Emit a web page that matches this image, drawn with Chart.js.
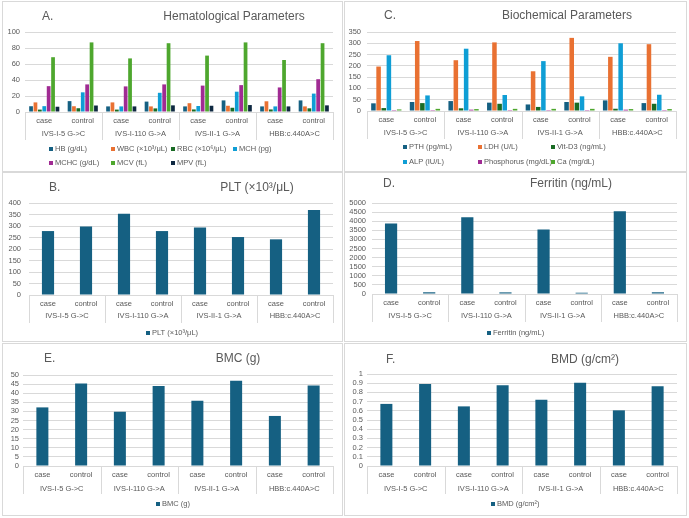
<!DOCTYPE html>
<html>
<head>
<meta charset="utf-8">
<script src="https://cdn.jsdelivr.net/npm/chart.js@4.4.1/dist/chart.umd.min.js"></script>
<style>
  body { margin:0; width:689px; height:518px; position:relative; overflow:hidden; background:#fff;
         font-family:"Liberation Sans", Arial, sans-serif; }
  .panel { position:absolute; border:1px solid #d9d9d9; box-sizing:border-box; }
  .panel canvas { position:absolute; left:-1px; top:-1px; }
  .t { position:absolute; font-size:12px; color:#595959; line-height:1; white-space:nowrap; transform:translate(-50%,-50%); }
  .k { position:absolute; font-size:12px; color:#595959; line-height:1; white-space:nowrap; transform:translateY(-50%); }
</style>
</head>
<body>
<div class="panel" style="left:2px;top:1px;width:341px;height:171px"><canvas id="cA" width="341" height="171"></canvas></div>
<div class="panel" style="left:344px;top:1px;width:343px;height:171px"><canvas id="cC" width="343" height="171"></canvas></div>
<div class="panel" style="left:2px;top:172px;width:341px;height:170px"><canvas id="cB" width="341" height="170"></canvas></div>
<div class="panel" style="left:344px;top:172px;width:343px;height:170px"><canvas id="cD" width="343" height="170"></canvas></div>
<div class="panel" style="left:2px;top:343px;width:341px;height:173px"><canvas id="cE" width="341" height="173"></canvas></div>
<div class="panel" style="left:344px;top:343px;width:343px;height:173px"><canvas id="cF" width="343" height="173"></canvas></div>

<span class="k" style="left:42px;top:16px">A.</span>
<span class="t" style="left:234px;top:16px">Hematological Parameters</span>
<span class="k" style="left:384px;top:15px">C.</span>
<span class="t" style="left:567px;top:15px">Biochemical Parameters</span>
<span class="k" style="left:49px;top:187px">B.</span>
<span class="t" style="left:257px;top:187px">PLT (×10³/μL)</span>
<span class="k" style="left:383px;top:183px">D.</span>
<span class="t" style="left:571px;top:183px">Ferritin (ng/mL)</span>
<span class="k" style="left:44px;top:358px">E.</span>
<span class="t" style="left:238px;top:358px">BMC (g)</span>
<span class="k" style="left:386px;top:359px">F.</span>
<span class="t" style="left:585px;top:359px">BMD (g/cm²)</span>

<script>
// categories
const groups = ['IVS-I-5 G->C', 'IVS-I-110 G->A', 'IVS-II-1 G->A', 'HBB:c.440A>C'];
const arms = ['case', 'control'];
const xLabels = groups.flatMap(() => arms);

// A. hematological (case, control per group)
const hemaNames = ['HB (g/dL)', 'WBC (×10³/μL)', 'RBC (×10⁶/μL)', 'MCH (pg)', 'MCHC (g/dL)', 'MCV (fL)', 'MPV (fL)'];
const hb   = [7.2, 13.6, 7, 13, 7, 14.5, 7, 14.5];
const wbc  = [12, 7.2, 12, 7, 11, 7.8, 13.4, 7];
const rbc  = [3, 4.7, 3, 4.5, 3.2, 5.3, 3.2, 4.6];
const mch  = [7.3, 24.6, 7, 24, 7.5, 25.4, 7, 23];
const mchc = [32.3, 34.5, 32, 34.5, 33, 33.6, 30.7, 41];
const mcv  = [68.5, 87, 67, 86, 70.5, 87, 65, 86];
const mpv  = [6.6, 8.1, 7, 8.3, 7.8, 8.7, 7, 8.3];

// C. biochemical
const bioNames = ['PTH (pg/mL)', 'LDH (U/L)', 'Vit-D3 (ng/mL)', 'ALP (IU/L)', 'Phosphorus (mg/dL)', 'Ca (mg/dL)'];
const pth  = [34, 40, 44, 37, 29, 40, 47, 35];
const ldh  = [197, 310, 225, 304, 176, 324, 240, 296];
const vitd = [13, 35, 12, 32, 18, 37, 10, 32];
const alp  = [247, 69, 276, 71, 221, 65, 300, 72];
const phos = [4, 4, 6, 4, 4, 4, 6, 4];
const ca   = [7, 9.5, 8.5, 9.5, 9.5, 9.5, 8.5, 8.5];

// B, D, E, F single series
const plt      = [278, 298, 353, 278, 293, 252, 242, 370];
const ferritin = [3870, 95, 4220, 90, 3540, 70, 4550, 95];
const bmc      = [32.2, 45.3, 29.8, 44, 35.8, 46.8, 27.5, 44.2];
const bmd      = [0.675, 0.89, 0.648, 0.877, 0.72, 0.905, 0.605, 0.866];

// y ticks
const ticksA = { max: 100, step: 20 };
const ticksC = { max: 350, step: 50 };
const ticksB = { max: 400, step: 50 };
const ticksD = { max: 5000, step: 500 };
const ticksE = { max: 50, step: 5 };
const ticksF = { max: 1, step: 0.1 };

const office = ['#156082', '#E97132', '#196B24', '#0F9ED5', '#A02B93', '#4EA72E', '#0E2841'];
const FONT = '"Liberation Sans", Arial, sans-serif';

Chart.defaults.font.family = FONT;
Chart.defaults.font.size = 7.5;
Chart.defaults.color = '#595959';

// second row of the category axis: group names and separators
const groupAxis = {
  id: 'groupAxis',
  afterDraw(chart, args, o) {
    const x = chart.scales.x, a = chart.chartArea, ctx = chart.ctx;
    const n = chart.data.labels.length, per = n / groups.length;
    const step = (a.right - a.left) / n;
    ctx.save();
    ctx.strokeStyle = '#d9d9d9';
    ctx.lineWidth = 1;
    for (let k = 0; k <= groups.length; k++) {
      const px = Math.round(x.getPixelForValue(0) - step / 2 + k * per * step) + 0.5;
      ctx.beginPath();
      ctx.moveTo(px, a.bottom);
      ctx.lineTo(px, a.bottom + o.len);
      ctx.stroke();
    }
    ctx.fillStyle = '#595959';
    ctx.font = '7.5px ' + FONT;
    ctx.textAlign = 'center';
    ctx.textBaseline = 'middle';
    groups.forEach((g, i) => {
      const cx = (x.getPixelForValue(i * per) + x.getPixelForValue(i * per + per - 1)) / 2;
      ctx.fillText(g, cx, a.bottom + o.dy);
    });
    ctx.restore();
  }
};

// excel-like legend, laid out in columns
const gridLegend = {
  id: 'gridLegend',
  afterDraw(chart, args, o) {
    const ctx = chart.ctx;
    ctx.save();
    ctx.font = '7.5px ' + FONT;
    ctx.textBaseline = 'middle';
    chart.data.datasets.forEach((d, i) => {
      let x, y;
      if (o.cols) {
        x = o.cols[i % o.cols.length];
        y = o.rows[Math.floor(i / o.cols.length)];
      } else {
        const w = 6 + ctx.measureText(d.label).width;
        x = Math.round(chart.width / 2 - w / 2);
        y = o.rows[0];
      }
      ctx.fillStyle = d.backgroundColor;
      ctx.fillRect(x, Math.round(y - 2), 4, 4);
      ctx.fillStyle = '#595959';
      ctx.fillText(d.label, x + 6, y);
    });
    ctx.restore();
  }
};

function barChart(id, datasets, yt, lay) {
  return new Chart(document.getElementById(id), {
    type: 'bar',
    data: { labels: xLabels, datasets: datasets },
    options: {
      responsive: false,
      animation: false,
      layout: { padding: { top: lay.top, left: 0, right: lay.right, bottom: lay.bottom } },
      datasets: { bar: { categoryPercentage: lay.cat, barPercentage: lay.bar } },
      scales: {
        x: {
          grid: { display: false, drawTicks: false },
          border: { display: false },
          ticks: { padding: 4, maxRotation: 0, autoSkip: false },
          afterFit: s => { s.height = 20; }
        },
        y: {
          min: 0, max: yt.max,
          ticks: { stepSize: yt.step, autoSkip: false, padding: lay.ypad, callback: v => String(+v.toFixed(2)) },
          grid: { color: '#d9d9d9', drawTicks: false },
          border: { display: false },
          afterFit: s => { s.width = lay.left; }
        }
      },
      plugins: {
        legend: { display: false },
        tooltip: { enabled: false },
        groupAxis: { len: 28, dy: lay.gy },
        gridLegend: lay.legend
      }
    },
    plugins: [groupAxis, gridLegend]
  });
}

const series = (names, arrs) => arrs.map((d, i) => ({ label: names[i], data: d, backgroundColor: office[i] }));
const single = (name, d) => [{ label: name, data: d, backgroundColor: office[0] }];

barChart('cA', series(hemaNames, [hb, wbc, rbc, mch, mchc, mcv, mpv]), ticksA,
  { top: 31, right: 10, bottom: 40, left: 23, ypad: 5, cat: 0.8, bar: 0.85, gy: 22,
    legend: { cols: [47, 109, 169, 231], rows: [148, 162] } });

barChart('cC', series(bioNames, [pth, ldh, vitd, alp, phos, ca]), ticksC,
  { top: 31, right: 11, bottom: 41, left: 23, ypad: 6, cat: 0.8, bar: 0.88, gy: 22,
    legend: { cols: [59, 134, 207], rows: [146, 161] } });

barChart('cB', single('PLT (×10³/μL)', plt), ticksB,
  { top: 31, right: 10, bottom: 27, left: 27, ypad: 8, cat: 0.32, bar: 1, gy: 21,
    legend: { rows: [161] } });

barChart('cD', single('Ferritin (ng/mL)', ferritin), ticksD,
  { top: 31, right: 10, bottom: 28, left: 28, ypad: 6, cat: 0.32, bar: 1, gy: 22,
    legend: { rows: [161] } });

barChart('cE', single('BMC (g)', bmc), ticksE,
  { top: 32, right: 10, bottom: 30, left: 21, ypad: 4, cat: 0.31, bar: 1, gy: 23,
    legend: { rows: [161] } });

barChart('cF', single('BMD (g/cm²)', bmd), ticksF,
  { top: 31, right: 10, bottom: 30, left: 23, ypad: 4, cat: 0.31, bar: 1, gy: 23,
    legend: { rows: [161] } });
</script>
</body>
</html>
